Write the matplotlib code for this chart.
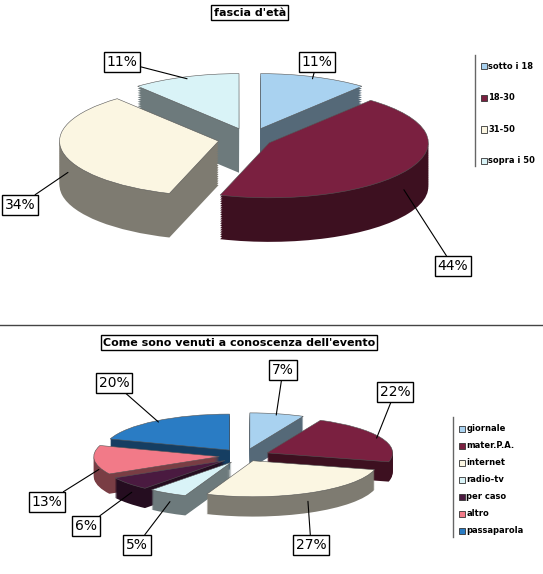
import matplotlib
matplotlib.use("Agg")
import matplotlib.pyplot as plt
import numpy as np
from matplotlib.colors import to_rgb

title1 = "fascia d'età"
labels1 = ["sotto i 18", "18-30", "31-50", "sopra i 50"]
values1 = [11, 44, 34, 11]
colors1 = ["#a9d2f0", "#7a2040", "#fbf6e2", "#d9f3f7"]
explode1 = [0.2, 0.14, 0.2, 0.2]

title2 = "Come sono venuti a conoscenza dell'evento"
labels2 = ["giornale", "mater.P.A.", "internet", "radio-tv", "per caso", "altro", "passaparola"]
values2 = [7, 22, 27, 5, 6, 13, 20]
colors2 = ["#a9d2f0", "#7a2040", "#fbf6e2", "#d9f3f7", "#4a1a40", "#f27a88", "#2a7cc4"]
explode2 = [0.2, 0.2, 0.15, 0.2, 0.2, 0.2, 0.2]

W, H = 543, 574
# label box positions (pixels from top-left)
labpos1 = [(317, 62), (453, 266), (20, 205), (122, 62)]
labpos2 = [(283, 370), (395, 392), (311, 545), (137, 545), (86, 526), (47, 502), (114, 383)]

fig = plt.figure(figsize=(W / 100, H / 100), dpi=100)

def dark(c, f=0.5):
    r, g, b = to_rgb(c)
    return (r*f, g*f, b*f)

def draw(ax, values, colors, explode, depth, labpos):
    n = 20
    for k in range(n, 0, -1):
        d = depth * k / n
        ax.pie(values, colors=[dark(c) for c in colors], explode=explode, startangle=90,
               counterclock=False, center=(0, -d), wedgeprops=dict(linewidth=0))
    ax.pie(values, colors=colors, explode=explode, startangle=90, counterclock=False,
           wedgeprops=dict(linewidth=0.4, edgecolor="#555555"))
    ax.set_aspect('auto')
    tot = sum(values)
    ang = 90
    for v, e, (px, py) in zip(values, explode, labpos):
        mid = np.deg2rad(ang - v / tot * 180)
        ang -= v / tot * 360
        x0, y0 = (1 + e) * np.cos(mid), (1 + e) * np.sin(mid)
        if y0 < 0:
            y0 -= depth * 0.5
        ax.annotate(f"{v}%", (x0 * 0.97, y0 * 0.97), (px / W, 1 - py / H), textcoords="figure fraction",
                    ha="center", va="center", fontsize=10,
                    bbox=dict(boxstyle="square,pad=0.2", fc="white", ec="black", lw=1),
                    arrowprops=dict(arrowstyle="-", lw=0.8, color="black", shrinkA=0, shrinkB=0))

ax1 = fig.add_axes([0.05, 0.47, 0.82, 0.47])
draw(ax1, values1, colors1, explode1, 0.8, labpos1)
ax1.set_xlim(-1.4, 1.4)
ax1.set_ylim(-3.0, 1.9)

ax2 = fig.add_axes([0.08, 0.03, 0.74, 0.32])
draw(ax2, values2, colors2, explode2, 0.55, labpos2)
ax2.set_xlim(-1.6, 1.6)
ax2.set_ylim(-2.8, 2.3)

fig.text(0.46, 0.978, title1, ha="center", va="center", fontsize=8, fontweight="bold",
         bbox=dict(boxstyle="square,pad=0.2", fc="white", ec="black", lw=1))
fig.text(0.44, 0.403, title2, ha="center", va="center", fontsize=8, fontweight="bold",
         bbox=dict(boxstyle="square,pad=0.2", fc="white", ec="black", lw=1))
fig.add_artist(plt.Line2D([0, 1], [0.433, 0.433], color="#444444", lw=1))

def legend(labels, colors, x, ytop, step, ybot):
    fig.add_artist(plt.Line2D([x - 0.01, x - 0.01], [ybot, ytop + 0.02], color="#666666", lw=1))
    for i, (l, c) in enumerate(zip(labels, colors)):
        y = ytop - i * step
        fig.patches.append(plt.Rectangle((x, y - 0.006), 0.011, 0.011, transform=fig.transFigure,
                                         fc=c, ec="#333333", lw=0.6))
        fig.text(x + 0.014, y, l, fontsize=6, fontweight="bold", va="center")

legend(labels1, colors1, 0.885, 0.885, 0.055, 0.71)
legend(labels2, colors2, 0.845, 0.253, 0.0295, 0.065)

fig.savefig("out.png", dpi=100)
